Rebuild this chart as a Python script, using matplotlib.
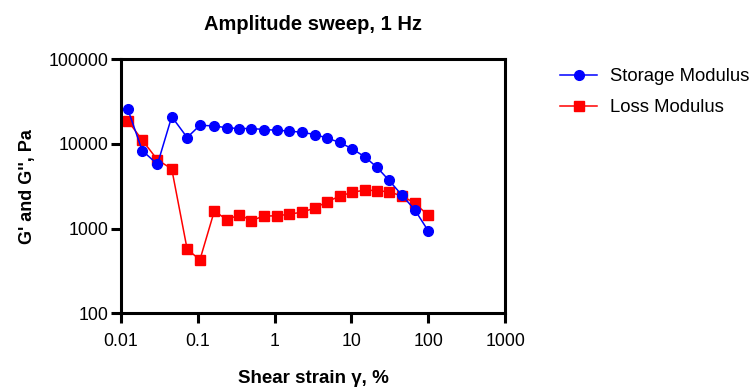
import matplotlib
matplotlib.use("Agg")
import matplotlib.pyplot as plt
from matplotlib.ticker import FixedLocator, FixedFormatter, NullLocator

plt.rcParams["font.family"] = ["Liberation Sans", "DejaVu Sans"]

# shear strain (%) for each measured point
strain = [0.0123, 0.019, 0.030, 0.046, 0.073, 0.107, 0.165, 0.24, 0.35, 0.50,
          0.73, 1.07, 1.56, 2.28, 3.37, 4.87, 7.05, 10.3, 15.0, 21.5,
          30.8, 45.5, 67.0, 100.0]

# storage modulus G' (Pa)
storage = [25900, 8340, 5750, 21000, 11900, 16600, 16300, 15500, 15200, 15200,
           14800, 14500, 14200, 13700, 12900, 11700, 10400, 8730, 7020, 5300,
           3720, 2480, 1660, 938]

# loss modulus G'' (Pa)
loss = [18900, 11100, 6480, 5070, 570, 427, 1620, 1265, 1460, 1240,
        1410, 1410, 1480, 1560, 1750, 2080, 2410, 2690, 2840, 2810,
        2710, 2430, 1990, 1430]

x_ticks = [0.01, 0.1, 1, 10, 100, 1000]
x_labels = ["0.01", "0.1", "1", "10", "100", "1000"]
y_ticks = [100, 1000, 10000, 100000]
y_labels = ["100", "1000", "10000", "100000"]

fig = plt.figure(figsize=(7.55, 3.9), dpi=100)
ax = fig.add_axes([0.160, 0.197, 0.509, 0.651])

ax.plot(strain, storage, color="#0000ff", marker="o", markersize=7,
        linewidth=1.1, label="Storage Modulus", zorder=3)
ax.plot(strain, loss, color="#ff0000", marker="s", markersize=6.8,
        linewidth=1.1, label="Loss Modulus", zorder=2)

ax.set_xscale("log")
ax.set_yscale("log")
ax.set_xlim(0.01, 1000)
ax.set_ylim(100, 100000)

ax.xaxis.set_major_locator(FixedLocator(x_ticks))
ax.xaxis.set_major_formatter(FixedFormatter(x_labels))
ax.xaxis.set_minor_locator(NullLocator())
ax.yaxis.set_major_locator(FixedLocator(y_ticks))
ax.yaxis.set_major_formatter(FixedFormatter(y_labels))
ax.yaxis.set_minor_locator(NullLocator())

for spine in ax.spines.values():
    spine.set_linewidth(2.2)
    spine.set_color("black")
ax.tick_params(which="major", length=7, width=2.2, labelsize=12.8,
               colors="black", pad=2)
ax.tick_params(axis="x", pad=7)

ax.set_title("Amplitude sweep, 1 Hz", fontsize=14.5, fontweight="bold", pad=21)
ax.set_xlabel("Shear strain \u03b3, %", fontsize=13.5, fontweight="bold",
              labelpad=15)
ax.set_ylabel("G' and G'', Pa", fontsize=13, fontweight="bold", labelpad=9)

ax.legend(loc="upper left", bbox_to_anchor=(1.1, 1.03), frameon=False,
          fontsize=13.3, handlelength=2.0, handletextpad=0.7,
          labelspacing=0.75)

fig.savefig("out.png", dpi=100)
